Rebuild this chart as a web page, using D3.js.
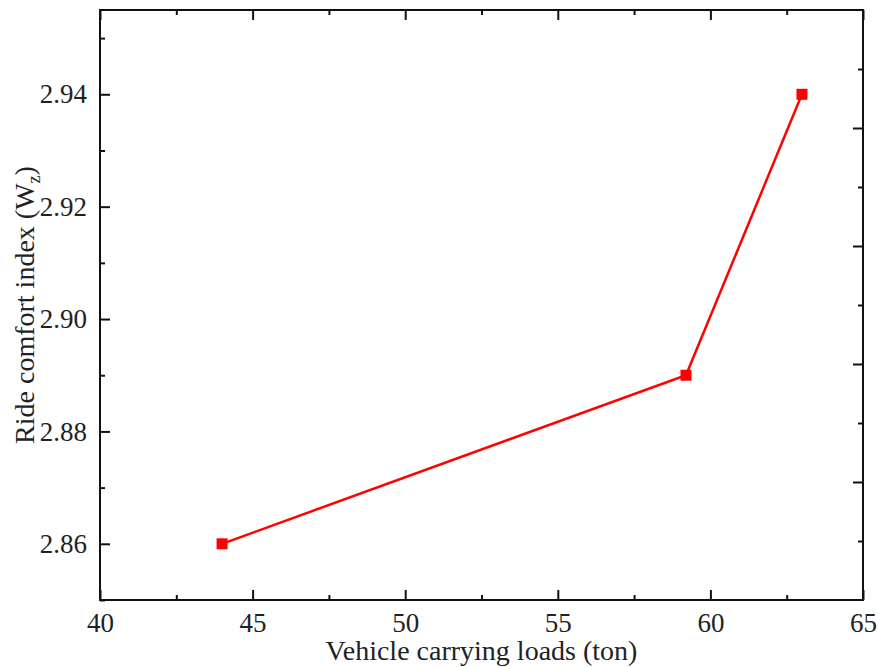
<!DOCTYPE html>
<html>
<head>
<meta charset="utf-8">
<script src="https://cdn.jsdelivr.net/npm/d3@7"></script>
<style>
  body { margin: 0; background: #fff; }
</style>
</head>
<body>
<svg id="chart"></svg>
<script>
(() => {
    const width = 878, height = 667;

    // data
    const loads = [44, 59.2, 63];
    const comfort = [2.86, 2.89, 2.94];

    const xMajor = [40, 45, 50, 55, 60, 65];
    const xMinor = [42.5, 47.5, 52.5, 57.5, 62.5];
    const yMajor = [2.86, 2.88, 2.90, 2.92, 2.94];
    const yMinor = [2.85, 2.87, 2.89, 2.91, 2.93, 2.95];
    // right-hand axis in the original does not line up with the left one
    const rMajor = [2, 4, 6, 8];
    const rMinor = [1, 3, 5, 7, 9];

    const serif = '"Liberation Serif", "Times New Roman", Times, "DejaVu Serif", serif';
    const fontSize = 27;

    const margin = {top: 10, right: 15, bottom: 67, left: 100};
    const x0 = margin.left, x1 = width - margin.right;
    const y0 = height - margin.bottom, y1 = margin.top;

    const svg = d3.select("#chart")
        .attr("width", width)
        .attr("height", height)
        .attr("font-family", serif);

    const x = d3.scaleLinear().domain([40, 65]).range([x0, x1]);
    const y = d3.scaleLinear().domain([2.85, 2.955]).range([y0, y1]);
    const yr = d3.scaleLinear().domain([0, 10]).range([y0, y1]);

    function styleAxis(g) {
        g.attr("font-family", serif).attr("font-size", fontSize);
        g.select(".domain").remove();
        g.selectAll(".tick line").attr("stroke", "#111").attr("stroke-width", 2);
        g.selectAll("text").attr("fill", "#222");
    }

    // bottom
    svg.append("g")
        .attr("transform", `translate(0,${y0})`)
        .call(d3.axisBottom(x).tickValues(xMinor).tickSize(-5).tickFormat(""))
        .call(styleAxis);
    svg.append("g")
        .attr("transform", `translate(0,${y0})`)
        .call(d3.axisBottom(x).tickValues(xMajor).tickSize(-10).tickPadding(13).tickFormat(d3.format("d")))
        .call(styleAxis);

    // top
    svg.append("g")
        .attr("transform", `translate(0,${y1})`)
        .call(d3.axisTop(x).tickValues(xMinor).tickSize(-5).tickFormat(""))
        .call(styleAxis);
    svg.append("g")
        .attr("transform", `translate(0,${y1})`)
        .call(d3.axisTop(x).tickValues(xMajor).tickSize(-10).tickFormat(""))
        .call(styleAxis);

    // left
    svg.append("g")
        .attr("transform", `translate(${x0},0)`)
        .call(d3.axisLeft(y).tickValues(yMinor).tickSize(-5).tickFormat(""))
        .call(styleAxis);
    svg.append("g")
        .attr("transform", `translate(${x0},0)`)
        .call(d3.axisLeft(y).tickValues(yMajor).tickSize(-10).tickPadding(13).tickFormat(d3.format(".2f")))
        .call(styleAxis);

    // right
    svg.append("g")
        .attr("transform", `translate(${x1},0)`)
        .call(d3.axisRight(yr).tickValues(rMinor).tickSize(-5).tickFormat(""))
        .call(styleAxis);
    svg.append("g")
        .attr("transform", `translate(${x1},0)`)
        .call(d3.axisRight(yr).tickValues(rMajor).tickSize(-10).tickFormat(""))
        .call(styleAxis);

    // frame
    svg.append("rect")
        .attr("x", x0).attr("y", y1)
        .attr("width", x1 - x0).attr("height", y0 - y1)
        .attr("fill", "none")
        .attr("stroke", "#111")
        .attr("stroke-width", 2);

    const pts = loads.map((d, i) => [d, comfort[i]]);

    const line = d3.line().x(d => x(d[0])).y(d => y(d[1]));

    svg.append("path")
        .datum(pts)
        .attr("d", line)
        .attr("fill", "none")
        .attr("stroke", "#ff0000")
        .attr("stroke-width", 2.5);

    const sq = 11;
    svg.selectAll(".pt")
        .data(pts)
        .join("rect")
        .attr("class", "pt")
        .attr("x", d => x(d[0]) - sq / 2)
        .attr("y", d => y(d[1]) - sq / 2)
        .attr("width", sq)
        .attr("height", sq)
        .attr("fill", "#ff0000");

    // axis titles
    svg.append("text")
        .attr("x", (x0 + x1) / 2)
        .attr("y", 660)
        .attr("text-anchor", "middle")
        .attr("font-size", 28)
        .attr("fill", "#222")
        .text("Vehicle carrying loads (ton)");

    const yt = svg.append("text")
        .attr("transform", `translate(34,${(y0 + y1) / 2}) rotate(-90)`)
        .attr("text-anchor", "middle")
        .attr("font-size", 28)
        .attr("fill", "#222");
    yt.append("tspan").text("Ride comfort index (W");
    yt.append("tspan").attr("dy", 6).attr("font-size", 18).text("z");
    yt.append("tspan").attr("dy", -6).text(")");
})();
</script>
</body>
</html>
